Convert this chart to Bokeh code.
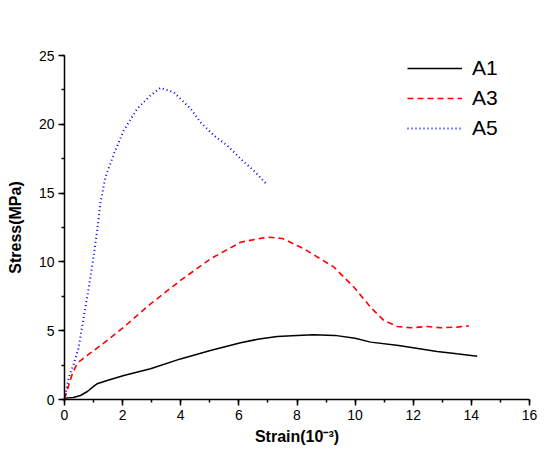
from bokeh.plotting import figure
from bokeh.models import Legend, LegendItem, Range1d, SingleIntervalTicker
from bokeh.embed import file_html
from bokeh.resources import INLINE

a1_x = [0.0, 0.3, 0.55, 0.8, 1.0, 1.12, 1.47, 2.04, 2.96, 3.99, 5.02, 6.06, 6.7, 7.32, 8.0, 8.57, 9.3, 10.0, 10.53, 11.5, 12.82, 13.5, 14.2]
a1_y = [0.1, 0.15, 0.29, 0.6, 0.95, 1.14, 1.38, 1.74, 2.23, 2.95, 3.56, 4.12, 4.4, 4.58, 4.66, 4.70, 4.66, 4.45, 4.17, 3.92, 3.49, 3.32, 3.15]

a3_x = [0.0, 0.27, 0.44, 0.78, 1.24, 2.04, 2.96, 3.99, 5.02, 6.06, 6.97, 7.5, 8.24, 9.27, 9.96, 10.53, 10.99, 11.45, 11.91, 12.48, 12.94, 13.51, 13.91]
a3_y = [0.05, 1.87, 2.64, 3.2, 3.92, 5.26, 6.95, 8.65, 10.22, 11.43, 11.8, 11.7, 10.95, 9.62, 8.16, 6.71, 5.74, 5.31, 5.21, 5.31, 5.21, 5.26, 5.35]

a5_x = [0.0, 0.15, 0.32, 0.49, 0.66, 0.8, 0.99, 1.12, 1.24, 1.41, 1.7, 2.04, 2.5, 2.96, 3.3, 3.76, 4.34, 4.68, 5.14, 5.6, 6.06, 6.51, 6.97]
a5_y = [0.0, 1.62, 2.59, 3.8, 5.98, 7.68, 10.22, 12.2, 14.34, 16.16, 17.86, 19.55, 21.13, 22.1, 22.65, 22.33, 21.13, 20.15, 19.19, 18.46, 17.49, 16.64, 15.62]

labels = ["A1", "A3", "A5"]

FONT = "Liberation Sans"

p = figure(width=542, height=447, output_backend="svg", toolbar_location=None,
           x_range=Range1d(0, 16), y_range=Range1d(0, 25),
           min_border_left=64, min_border_right=13, min_border_top=55, min_border_bottom=45)
p.outline_line_color = None
p.xgrid.visible = False
p.ygrid.visible = False

r1 = p.line(a1_x, a1_y, line_color="black", line_width=1.5)
r3 = p.line(a3_x, a3_y, line_color="#ff0000", line_width=1.6, line_dash="6 4")
r5 = p.line(a5_x, a5_y, line_color="#0000ff", line_width=2, line_dash="1 3")

for ax in (p.xaxis[0], p.yaxis[0]):
    ax.axis_line_width = 1.5
    ax.axis_line_color = "black"
    ax.major_tick_line_width = 1.5
    ax.minor_tick_line_width = 1.5
    ax.major_tick_in = 0
    ax.major_tick_out = 6
    ax.minor_tick_in = 0
    ax.minor_tick_out = 3
    ax.major_label_standoff = 4
    ax.major_label_text_font = FONT
    ax.major_label_text_font_size = "14px"
    ax.major_label_text_color = "black"
    ax.axis_label_text_font = FONT
    ax.axis_label_text_font_size = "16px"
    ax.axis_label_text_font_style = "bold"
    ax.axis_label_text_color = "black"

p.xaxis[0].ticker = SingleIntervalTicker(interval=2, num_minor_ticks=2)
p.yaxis[0].ticker = SingleIntervalTicker(interval=5, num_minor_ticks=2)
p.xaxis[0].axis_label = "Strain(10\u207b\u00b3)"
p.yaxis[0].axis_label = "Stress(MPa)"
p.xaxis[0].axis_label_standoff = 5
p.yaxis[0].axis_label_standoff = 12

legend = Legend(items=[LegendItem(label=labels[0], renderers=[r1]),
                       LegendItem(label=labels[1], renderers=[r3]),
                       LegendItem(label=labels[2], renderers=[r5])],
                location=(343, 259), orientation="vertical",
                border_line_color=None, background_fill_alpha=0,
                padding=0, margin=0, spacing=6,
                glyph_width=55, glyph_height=20, label_height=20,
                label_standoff=10,
                label_text_font=FONT, label_text_font_size="21px", label_text_color="black")
p.add_layout(legend, "center")

open("out.html", "w").write(file_html(p, INLINE))
